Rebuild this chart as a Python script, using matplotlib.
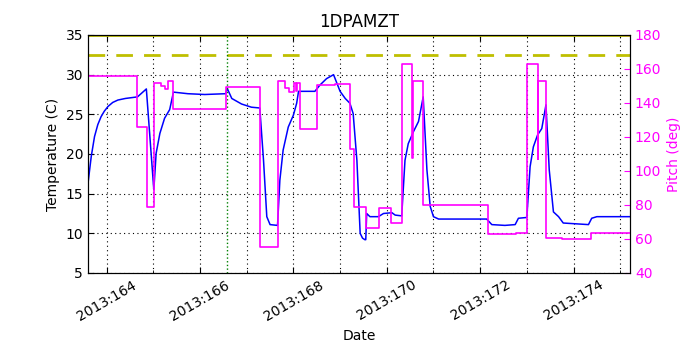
import matplotlib
matplotlib.use("Agg")
import matplotlib.pyplot as plt
from matplotlib.ticker import MultipleLocator, FuncFormatter

# Temperature (1DPAMZT), day of year 2013
temp_days = [163.60, 163.67, 163.74, 163.81, 163.88, 163.95, 164.03, 164.13, 164.24, 164.40,
             164.66, 164.85, 165.01, 165.06, 165.14, 165.24, 165.35, 165.43, 165.74, 166.10,
             166.55, 166.58, 166.68, 166.89, 167.10, 167.28, 167.36, 167.43, 167.50, 167.66,
             167.71, 167.78, 167.89, 168.00, 168.07, 168.11, 168.46, 168.57, 168.71, 168.86,
             169.00, 169.11, 169.21, 169.28, 169.36, 169.43, 169.48, 169.53, 169.55, 169.57,
             169.64, 169.82, 169.93, 170.11, 170.18, 170.32, 170.39, 170.46, 170.57, 170.68,
             170.78, 170.86, 170.93, 171.00, 171.11, 172.14, 172.25, 172.53, 172.75, 172.82,
             173.00, 173.07, 173.14, 173.23, 173.32, 173.41, 173.48, 173.57, 173.68, 173.78,
             174.32, 174.39, 174.50, 175.21]
temp_vals = [16.3, 19.7, 22.2, 23.7, 24.7, 25.4, 26.0, 26.5, 26.8, 27.0,
             27.2, 28.2, 15.5, 20.1, 22.6, 24.5, 25.6, 27.8, 27.6, 27.5,
             27.6, 28.3, 27.0, 26.3, 25.9, 25.8, 19.2, 12.1, 11.1, 11.0,
             16.7, 20.5, 23.4, 24.9, 26.4, 27.9, 27.9, 28.7, 29.5, 30.0,
             27.9, 27.0, 26.4, 25.1, 19.2, 10.0, 9.4, 9.2, 9.2, 12.5,
             12.1, 12.1, 12.5, 12.6, 12.3, 12.2, 19.2, 21.3, 22.8, 24.1,
             27.2, 18.0, 13.4, 12.1, 11.8, 11.8, 11.1, 11.0, 11.1, 11.9,
             12.0, 18.4, 20.9, 22.4, 23.2, 26.2, 18.0, 12.7, 12.1, 11.3,
             11.1, 11.9, 12.1, 12.1]

# Pitch (deg), step values
pitch_days = [163.60, 164.66, 164.86, 165.01, 165.17, 165.25, 165.32, 165.43, 166.55, 167.28,
              167.68, 167.82, 167.91, 168.01, 168.05, 168.07, 168.14, 168.50, 168.89, 169.21,
              169.30, 169.56, 169.83, 170.10, 170.32, 170.55, 170.56, 170.78, 172.16, 172.77,
              173.01, 173.23, 173.24, 173.42, 173.75, 174.37, 175.21]
pitch_vals = [156, 126, 79, 152, 150, 148, 152.7, 136.5, 149.6, 55.5,
              153, 149, 146.3, 152, 147, 152, 124.7, 150.4, 151.4, 112.7,
              78.8, 66.3, 78.4, 69.6, 163, 107.8, 152.7, 79.8, 63, 63.7,
              163, 107, 152.7, 60.8, 59.8, 63.7, 63.7]

planning_limit = 32.5
upper_limit = 35
event_day = 166.57

fig = plt.figure(figsize=(7, 3.5), dpi=100)
ax = fig.add_axes([0.1257, 0.22, 0.7743, 0.68])

ax.plot(temp_days, temp_vals, color="b", lw=1.1)
ax.axhline(planning_limit, color=(0.75, 0.75, 0), ls="--", lw=2, dashes=(6, 4))
ax.axhline(upper_limit, color=(0.75, 0.75, 0), lw=2)
ax.axvline(event_day, color="g", ls=":", lw=1)

ax.set_xlim(163.60, 175.21)
ax.set_ylim(5, 35)
ax.xaxis.set_major_locator(MultipleLocator(2))
ax.xaxis.set_minor_locator(MultipleLocator(1))
ax.xaxis.set_major_formatter(FuncFormatter(lambda v, p: "2013:%03d" % int(round(v))))
ax.grid(True, which="both", color="k", ls=(0, (1, 3)), lw=0.8)
ax.tick_params(direction="in", which="both", top=True)
ax.tick_params(which="major", length=4)
ax.tick_params(which="minor", length=2)
for lab in ax.get_xticklabels():
    lab.set_rotation(30)
    lab.set_ha("center")
ax.set_xlabel("Date")
ax.set_ylabel("Temperature (C)")
ax.set_title("1DPAMZT")

ax2 = ax.twinx()
ax2.step(pitch_days, pitch_vals, where="post", color="magenta", lw=1.2)
ax2.set_ylim(40, 180)
ax2.set_yticks(range(40, 181, 20))
ax2.tick_params(direction="in", colors="magenta", length=4)
ax2.spines["right"].set_color("k")
ax2.set_ylabel("Pitch (deg)", color="magenta")

fig.savefig("out.png", dpi=100, facecolor="white")
